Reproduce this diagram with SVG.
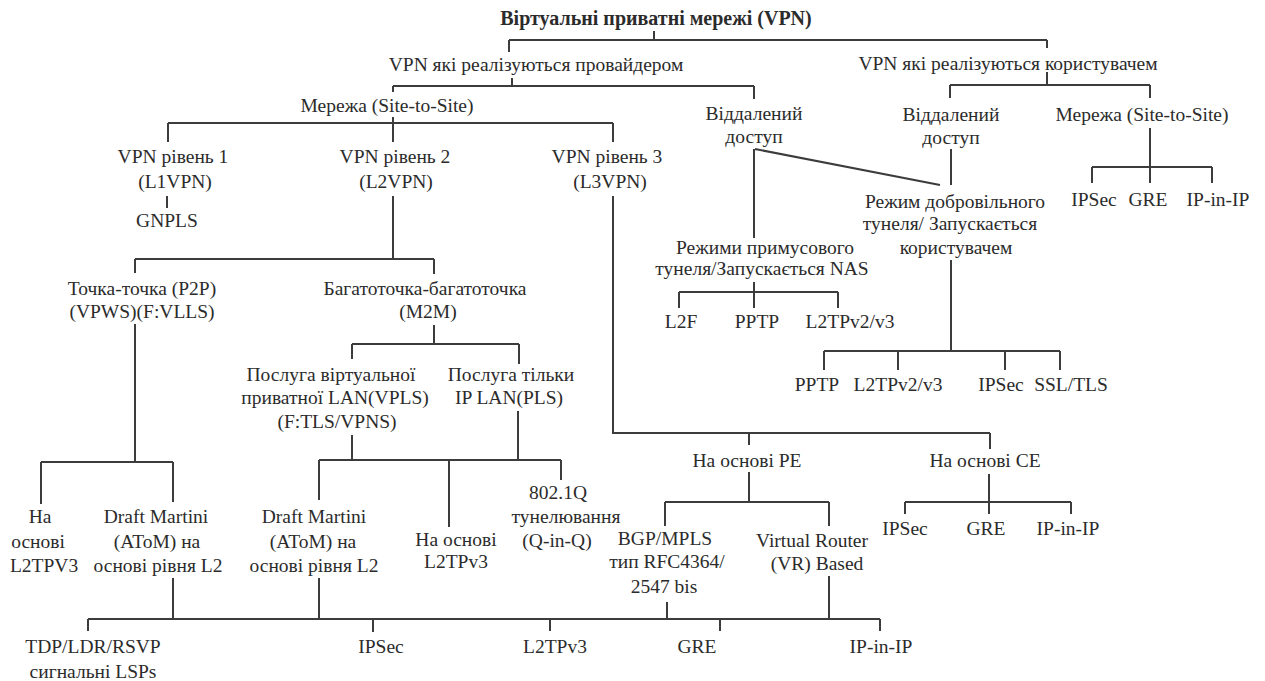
<svg xmlns="http://www.w3.org/2000/svg" width="1265" height="681" viewBox="0 0 1265 681">
<style>
text{font-family:"Liberation Serif","Times New Roman",serif;font-size:19.5px;fill:#2b2b2b;text-anchor:middle}
.b{font-weight:bold;font-size:20px}
.c path{fill:none;stroke:#3c3c3c;stroke-width:2}
</style>
<rect width="1265" height="681" fill="#fff"/>
<g id="connectors" class="c">
<path d="M654 31V40M509 40H1047M509 40V52M1047 40V48"/>
<path d="M512 78V86M393 86H754M393 86V92M754 86V99"/>
<path d="M1047 72V85M950 85H1150M950 85V98M1150 85V98"/>
<path d="M393 117V142M168 123H613M168 123V142M613 123V142"/>
<path d="M167 196V208"/>
<path d="M393 196V259M135 259H434M135 259V273M434 259V274"/>
<path d="M135 324V462M41 462H173M41 462V504M173 462V502"/>
<path d="M434 325V344M352 344H519M352 344V359M519 344V364"/>
<path d="M352 435V460M319 460H561M319 460V500M449 460V527M561 460V480"/>
<path d="M518 411V460"/>
<path d="M613 196V433H990M749 433V445M990 433V449"/>
<path d="M754 149V238M755 149L940 185"/>
<path d="M951 149V185"/>
<path d="M754 282V308M679 292H838M679 292V308M838 292V308"/>
<path d="M951 260V351M824 351H1060M824 351V370M898 351V370M1005 351V370M1060 351V370"/>
<path d="M1150 128V183M1092 167H1212M1092 167V183M1212 167V183"/>
<path d="M749 472V502M665 502H829M665 502V526M829 502V526"/>
<path d="M989 474V514M905 502H1071M905 502V514M1071 502V514"/>
<path d="M173 578V619M319 578V619M667 602V619M829 576V619M88 619H880M88 619V631M373 619V632M550 619V631M720 619V631M880 619V631"/>
</g>
<g id="n_root"><text class="b" x="656" y="25">Віртуальні приватні мережі (VPN)</text></g>
<g id="n_prov"><text x="536" y="71">VPN які реалізуються провайдером</text></g>
<g id="n_user"><text x="1008" y="70">VPN які реалізуються користувачем</text></g>
<g id="n_p_site"><text x="387" y="112">Мережа (Site-to-Site)</text></g>
<g id="n_p_remote"><text x="754" y="120">Віддалений</text><text x="754" y="143">доступ</text></g>
<g id="n_u_remote"><text x="951" y="121">Віддалений</text><text x="951" y="144">доступ</text></g>
<g id="n_u_site"><text x="1142" y="121">Мережа (Site-to-Site)</text></g>
<g id="n_l1"><text x="173" y="163">VPN рівень 1</text><text x="175" y="188">(L1VPN)</text></g>
<g id="n_l2"><text x="395" y="163">VPN рівень 2</text><text x="396" y="188">(L2VPN)</text></g>
<g id="n_l3"><text x="607" y="163">VPN рівень 3</text><text x="610" y="188">(L3VPN)</text></g>
<g id="n_gnpls"><text x="167" y="227">GNPLS</text></g>
<g id="n_u_ipsec"><text x="1094" y="206">IPSec</text></g>
<g id="n_u_gre"><text x="1148" y="206">GRE</text></g>
<g id="n_u_ipip"><text x="1218" y="206">IP-in-IP</text></g>
<g id="n_vol"><text x="955" y="208">Режим добровільного</text><text x="950" y="230">тунеля/ Запускається</text><text x="956" y="254">користувачем</text></g>
<g id="n_force"><text x="765" y="254">Режими примусового</text><text x="762" y="275">тунеля/Запускається NAS</text></g>
<g id="n_p2p"><text x="142" y="295">Точка-точка (P2P)</text><text x="142" y="318">(VPWS)(F:VLLS)</text></g>
<g id="n_m2m"><text x="425" y="295">Багатоточка-багатоточка</text><text x="428" y="318">(M2M)</text></g>
<g id="n_l2f"><text x="681" y="328">L2F</text></g>
<g id="n_pptp1"><text x="757" y="328">PPTP</text></g>
<g id="n_l2tp1"><text x="850" y="328">L2TPv2/v3</text></g>
<g id="n_vpls"><text x="331" y="381">Послуга віртуальної</text><text x="335" y="404">приватної LAN(VPLS)</text><text x="337" y="428">(F:TLS/VPNS)</text></g>
<g id="n_pls"><text x="511" y="381">Послуга тільки</text><text x="509" y="404">IP LAN(PLS)</text></g>
<g id="n_pptp2"><text x="817" y="391">PPTP</text></g>
<g id="n_l2tp2"><text x="898" y="391">L2TPv2/v3</text></g>
<g id="n_ipsec2"><text x="1001" y="391">IPSec</text></g>
<g id="n_ssl"><text x="1071" y="391">SSL/TLS</text></g>
<g id="n_pe"><text x="747" y="467">На основі PE</text></g>
<g id="n_ce"><text x="985" y="467">На основі CE</text></g>
<g id="n_l2tpv3a"><text x="40" y="523">На</text><text x="38" y="548">основі</text><text x="44" y="572">L2TPV3</text></g>
<g id="n_draft1"><text x="156" y="523">Draft Martini</text><text x="157" y="548">(AToM) на</text><text x="158" y="572">основі рівня L2</text></g>
<g id="n_draft2"><text x="314" y="523">Draft Martini</text><text x="313" y="548">(AToM) на</text><text x="314" y="572">основі рівня L2</text></g>
<g id="n_l2tpv3b"><text x="456" y="546">На основі</text><text x="456" y="568">L2TPv3</text></g>
<g id="n_qinq"><text x="558" y="499">802.1Q</text><text x="566" y="523">тунелювання</text><text x="557" y="547">(Q-in-Q)</text></g>
<g id="n_bgp"><text x="665" y="545">BGP/MPLS</text><text x="667" y="568">тип RFC4364/</text><text x="664" y="593">2547 bis</text></g>
<g id="n_vr"><text x="812" y="547">Virtual Router</text><text x="817" y="570">(VR) Based</text></g>
<g id="n_ce_ipsec"><text x="905" y="535">IPSec</text></g>
<g id="n_ce_gre"><text x="986" y="535">GRE</text></g>
<g id="n_ce_ipip"><text x="1068" y="535">IP-in-IP</text></g>
<g id="n_tdp"><text x="93" y="653">TDP/LDR/RSVP</text><text x="93" y="678">сигнальні LSPs</text></g>
<g id="n_b_ipsec"><text x="381" y="653">IPSec</text></g>
<g id="n_b_l2tp"><text x="555" y="653">L2TPv3</text></g>
<g id="n_b_gre"><text x="697" y="653">GRE</text></g>
<g id="n_b_ipip"><text x="881" y="653">IP-in-IP</text></g>
</svg>
